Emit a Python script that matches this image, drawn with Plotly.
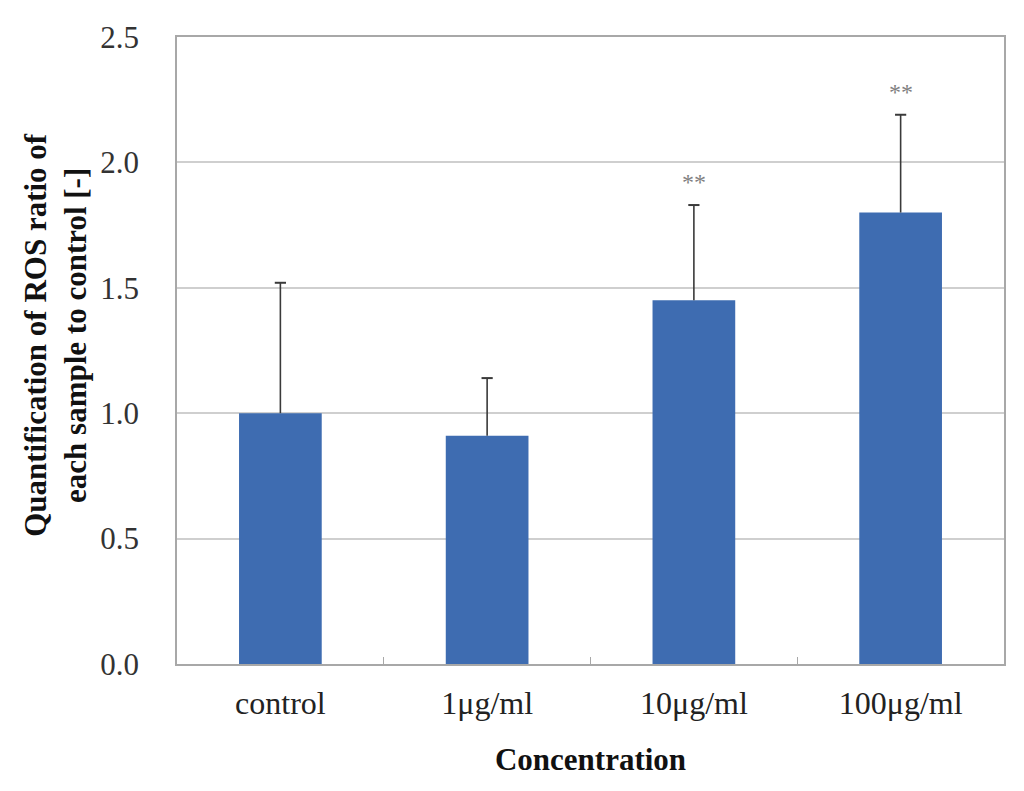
import plotly.graph_objects as go

# ROS ratio per concentration
concentrations = ["control", "1μg/ml", "10μg/ml", "100μg/ml"]
ros_ratio = [1.00, 0.91, 1.45, 1.80]
ros_sd = [0.52, 0.23, 0.38, 0.39]
significance = ["", "", "**", "**"]

tops = [v + e for v, e in zip(ros_ratio, ros_sd)]

fig = go.Figure()
fig.add_trace(go.Bar(
    x=concentrations, y=ros_ratio,
    marker=dict(color="#3E6CB1", line=dict(width=0)),
    width=0.4, showlegend=False, hoverinfo="skip",
))

# upper-only error bars: stem + cap (no shoe on the bar top)
stem_x, stem_y = [], []
for c, v, t in zip(concentrations, ros_ratio, tops):
    stem_x += [c, c, None]
    stem_y += [v, t, None]
fig.add_trace(go.Scatter(x=stem_x, y=stem_y, mode="lines",
                         line=dict(color="#3a3a3a", width=1.6),
                         showlegend=False, hoverinfo="skip"))
fig.add_trace(go.Scatter(x=concentrations, y=tops, mode="markers",
                         marker=dict(symbol="line-ew", size=8,
                                     line=dict(color="#3a3a3a", width=2)),
                         showlegend=False))

for c, t, s in zip(concentrations, tops, significance):
    if s:
        fig.add_annotation(x=c, y=t, text=s, showarrow=False,
                           yanchor="bottom", yshift=8,
                           font=dict(family="Liberation Serif", size=24, color="#808080"))

# y title as annotation so it can sit a little above the middle, like the original
fig.add_annotation(
    text="<b>Quantification of ROS ratio of<br>each sample to control [-]</b>",
    xref="paper", yref="paper", x=0, y=0.525, xshift=-121,
    xanchor="center", yanchor="middle", textangle=-90, showarrow=False,
    font=dict(family="Liberation Serif", size=31, color="#111111"),
)

# the page body adds an 8px offset, margins compensate
fig.update_layout(
    width=1024, height=791,
    margin=dict(l=169, r=28, t=27, b=135),
    paper_bgcolor="white", plot_bgcolor="white",
    font=dict(family="Liberation Serif", size=30, color="#222222"),
)
fig.update_xaxes(
    showline=True, linecolor="#a8a8a8", linewidth=1.5, mirror=True,
    ticks="inside", tickson="boundaries", ticklen=7, tickcolor="#a8a8a8",
    ticklabelstandoff=10,
    tickfont=dict(size=32, color="#222222"),
    title=dict(text="<b>Concentration</b>", font=dict(size=31, color="#111111"), standoff=28),
)
fig.update_yaxes(
    range=[0, 2.5], dtick=0.5, tickformat=".1f",
    showgrid=True, gridcolor="#cfcfcf", gridwidth=1.5,
    showline=True, linecolor="#a8a8a8", linewidth=1.5, mirror=True,
    zeroline=False, ticks="", ticklabelstandoff=30,
    tickfont=dict(size=31, color="#333333"),
)

fig.write_html("out.html")
